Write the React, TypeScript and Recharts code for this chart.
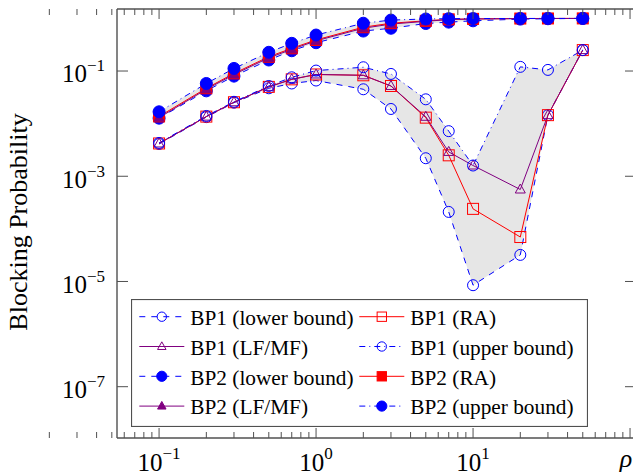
import React from "react";
import { ComposedChart, Line, Area, XAxis, YAxis, Legend } from "recharts";

// load rho
const rho = [0.1, 0.2, 0.3, 0.5, 0.7, 1, 2, 3, 5, 7, 10, 20, 30, 50];

// BP1
const bp1Lower = [0.0041, 0.0133, 0.025, 0.047, 0.058, 0.066, 0.045, 0.019, 0.0022, 0.00021, 8.5e-6, 3.2e-5, 0.0145, 0.25];
const bp1RA = [0.0042, 0.0136, 0.0255, 0.05, 0.0695, 0.086, 0.083, 0.052, 0.013, 0.0025, 0.00024, 7e-5, 0.0145, 0.25];
const bp1LF = [0.0042, 0.0136, 0.0255, 0.05, 0.0695, 0.086, 0.083, 0.052, 0.0135, 0.0029, 0.0016, 0.00056, 0.0145, 0.25];
const bp1Upper = [0.0043, 0.014, 0.026, 0.052, 0.076, 0.102, 0.118, 0.088, 0.029, 0.0072, 0.0016, 0.12, 0.105, 0.25];

// BP2
const bp2Lower = [0.0127, 0.042, 0.08, 0.162, 0.243, 0.345, 0.575, 0.65, 0.8, 0.85, 0.9, 0.97, 0.985, 1.0];
const bp2RA = [0.0137, 0.047, 0.09, 0.187, 0.27, 0.39, 0.68, 0.81, 0.9, 0.96, 0.98, 0.995, 0.998, 1.0];
const bp2LF = [0.013, 0.045, 0.086, 0.178, 0.258, 0.375, 0.65, 0.78, 0.88, 0.95, 0.975, 0.993, 0.997, 1.0];
const bp2Upper = [0.0168, 0.058, 0.112, 0.227, 0.336, 0.483, 0.81, 0.93, 0.975, 0.99, 0.995, 0.998, 0.999, 1.0];

const xMajorTicks = [0.1, 1, 10, 100];
const xLabelTicks = [0.1, 1, 10];
const xMinorTicks = [0.01, 0.1, 1, 10].flatMap((d) => [2, 3, 4, 5, 6, 7, 8, 9].map((k) => k * d));
const yTicks = [1e-1, 1e-3, 1e-5, 1e-7];

const X_DOMAIN = [Math.pow(10, -1.268), Math.pow(10, 2.038)];
const Y_DOMAIN = [Math.pow(10, -7.975), Math.pow(10, 0.179)];

const BLUE = "#0000ff";
const RED = "#ff0000";
const PURPLE = "#800080";
const FRAME = "#505050";
const SERIF = "Liberation Serif, Times New Roman, serif";
const serif = { fontFamily: SERIF };

type Kind = "circle" | "square" | "triangle";
type Series = { key: string; name: string; color: string; dash?: string; kind: Kind; filled: boolean };

const series: Series[] = [
  { key: "bp1Lower", name: "BP1 (lower bound)", color: BLUE, dash: "6 6", kind: "circle", filled: false },
  { key: "bp1RA", name: "BP1 (RA)", color: RED, kind: "square", filled: false },
  { key: "bp1LF", name: "BP1 (LF/MF)", color: PURPLE, kind: "triangle", filled: false },
  { key: "bp1Upper", name: "BP1 (upper bound)", color: BLUE, dash: "6 4 1 4", kind: "circle", filled: false },
  { key: "bp2Lower", name: "BP2 (lower bound)", color: BLUE, dash: "6 6", kind: "circle", filled: true },
  { key: "bp2RA", name: "BP2 (RA)", color: RED, kind: "square", filled: true },
  { key: "bp2LF", name: "BP2 (LF/MF)", color: PURPLE, kind: "triangle", filled: true },
  { key: "bp2Upper", name: "BP2 (upper bound)", color: BLUE, dash: "6 4 1 4", kind: "circle", filled: true },
];

const data = rho.map((x, i) => ({
  x,
  bp1Lower: bp1Lower[i],
  bp1RA: bp1RA[i],
  bp1LF: bp1LF[i],
  bp1Upper: bp1Upper[i],
  bp2Lower: bp2Lower[i],
  bp2RA: bp2RA[i],
  bp2LF: bp2LF[i],
  bp2Upper: bp2Upper[i],
  band1: [bp1Lower[i], bp1Upper[i]],
  band2: [bp2Lower[i], bp2Upper[i]],
}));

function Marker({ kind, filled, color, cx, cy, s = 1 }: { kind: Kind; filled: boolean; color: string; cx: number; cy: number; s?: number }) {
  const fill = filled ? color : "none";
  if (kind === "circle") {
    return <circle cx={cx} cy={cy} r={(filled ? 6 : 5.5) * s} fill={fill} stroke={color} strokeWidth={1} />;
  }
  if (kind === "square") {
    const h = 5.5 * s;
    return <rect x={cx - h} y={cy - h} width={2 * h} height={2 * h} fill={fill} stroke={color} strokeWidth={1} />;
  }
  const w = 5 * s;
  return (
    <polygon
      points={`${cx},${cy - 5.5 * s} ${cx + w},${cy + 3.5 * s} ${cx - w},${cy + 3.5 * s}`}
      fill={fill}
      stroke={color}
      strokeWidth={1}
    />
  );
}

const isMajor = (v: number) => Math.abs(Math.log10(v) - Math.round(Math.log10(v))) < 1e-6;
const expText = (v: number) => {
  const e = Math.round(Math.log10(v));
  return e < 0 ? "\u2212" + -e : String(e);
};

function BottomTick(props: any) {
  const { x, payload } = props;
  const v = payload.value;
  const major = isMajor(v);
  const y = 438;
  return (
    <g>
      <line x1={x} x2={x} y1={y} y2={y - (major ? 10 : 6)} stroke={FRAME} strokeWidth={1} />
      {major && xLabelTicks.some((t) => Math.abs(t - v) < 1e-9) && (
        <text x={x} y={471} textAnchor="middle" style={serif} fontSize={25} fill="#000">
          10
          <tspan dy={-12} fontSize={17}>{expText(v)}</tspan>
        </text>
      )}
    </g>
  );
}

function TopTick(props: any) {
  const { x, payload } = props;
  const major = isMajor(payload.value);
  const y = 9;
  return <line x1={x} x2={x} y1={y} y2={y + (major ? 10 : 6)} stroke={FRAME} strokeWidth={1} />;
}

function LeftTick(props: any) {
  const { y, payload } = props;
  const x = 117;
  return (
    <g>
      <line x1={x} x2={x + 11} y1={y} y2={y} stroke={FRAME} strokeWidth={1} />
      <text x={105} y={y + 11.3} textAnchor="end" style={serif} fontSize={25} fill="#000">
        10
        <tspan dy={-11} fontSize={17}>{expText(payload.value)}</tspan>
      </text>
    </g>
  );
}

function RightTick(props: any) {
  const { y } = props;
  const x = 636;
  return <line x1={x} x2={x - 11} y1={y} y2={y} stroke={FRAME} strokeWidth={1} />;
}

function LegendBox() {
  const rows = [17.7, 47.5, 77.3, 107.1];
  const cols = [8.3, 228.3];
  return (
    <svg width={457} height={128} style={{ display: "block" }}>
      <rect x={0.5} y={0.5} width={456} height={127} fill="#fff" stroke={FRAME} strokeWidth={1.2} />
      {series.map((s, i) => {
        const cx = cols[i % 2];
        const cy = rows[Math.floor(i / 2)];
        return (
          <g key={s.key}>
            <line x1={cx} x2={cx + 45} y1={cy} y2={cy} stroke={s.color} strokeWidth={1} strokeDasharray={s.dash} />
            <Marker kind={s.kind} filled={s.filled} color={s.color} cx={cx + 22.5} cy={cy} s={0.85} />
            <text x={cx + 51} y={cy + 8.3} style={serif} fontSize={21.3} fill="#000">
              {s.name}
            </text>
          </g>
        );
      })}
    </svg>
  );
}

export default function App() {
  return (
    <div style={{ position: "absolute", left: 0, top: 0, width: 633, height: 476, overflow: "hidden", background: "#fff" }}>
      <ComposedChart width={640} height={476} data={data} margin={{ top: 0, right: 0, bottom: 0, left: 0 }}>
        <XAxis
          xAxisId="b"
          dataKey="x"
          type="number"
          scale="log"
          domain={X_DOMAIN}
          allowDataOverflow
          ticks={[...xMajorTicks, ...xMinorTicks]}
          interval={0}
          height={38}
          tickSize={0}
          tickMargin={0}
          tick={<BottomTick />}
          axisLine={{ stroke: FRAME, strokeWidth: 1.4 }}
          tickLine={false}
          label={{
            value: "ρ",
            content: () => (
              <text x={626} y={467} textAnchor="middle" style={serif} fontStyle="italic" fontSize={26} fill="#000">
                ρ
              </text>
            ),
          }}
        />
        <XAxis
          xAxisId="t"
          orientation="top"
          dataKey="x"
          type="number"
          scale="log"
          domain={X_DOMAIN}
          allowDataOverflow
          ticks={[...xMajorTicks, ...xMinorTicks]}
          interval={0}
          height={9}
          tickSize={0}
          tickMargin={0}
          tick={<TopTick />}
          axisLine={{ stroke: FRAME, strokeWidth: 1.4 }}
          tickLine={false}
        />
        <YAxis
          yAxisId="l"
          type="number"
          scale="log"
          domain={Y_DOMAIN}
          allowDataOverflow
          ticks={yTicks}
          interval={0}
          width={117}
          tickSize={0}
          tickMargin={0}
          tick={<LeftTick />}
          axisLine={{ stroke: FRAME, strokeWidth: 1.4 }}
          tickLine={false}
          label={{
            value: "Blocking Probability",
            content: () => (
              <text
                x={27}
                y={222}
                transform="rotate(-90, 27, 222)"
                textAnchor="middle"
                style={serif}
                fontSize={26}
                fill="#000"
              >
                Blocking Probability
              </text>
            ),
          }}
        />
        <YAxis
          yAxisId="r"
          orientation="right"
          type="number"
          scale="log"
          domain={Y_DOMAIN}
          allowDataOverflow
          ticks={yTicks}
          interval={0}
          width={4}
          tickSize={0}
          tickMargin={0}
          tick={<RightTick />}
          axisLine={{ stroke: FRAME, strokeWidth: 1.4 }}
          tickLine={false}
        />
        <Area
          xAxisId="b"
          yAxisId="l"
          type="linear"
          dataKey="band1"
          fill="#e6e6e6"
          fillOpacity={1}
          stroke="none"
          isAnimationActive={false}
          activeDot={false}
          legendType="none"
        />
        <Area
          xAxisId="b"
          yAxisId="l"
          type="linear"
          dataKey="band2"
          fill="#e6e6e6"
          fillOpacity={1}
          stroke="none"
          isAnimationActive={false}
          activeDot={false}
          legendType="none"
        />
        {series.map((s) => (
          <Line
            key={s.key}
            xAxisId="b"
            yAxisId="l"
            type="linear"
            dataKey={s.key}
            name={s.name}
            stroke={s.color}
            strokeWidth={1}
            strokeDasharray={s.dash}
            isAnimationActive={false}
            activeDot={false}
            dot={(p: any) => (
              <Marker key={`${s.key}-${p.index}`} kind={s.kind} filled={s.filled} color={s.color} cx={p.cx} cy={p.cy} />
            )}
          />
        ))}
        <Legend
          layout="horizontal"
          verticalAlign="middle"
          align="center"
          wrapperStyle={{ left: 131, top: 299, width: 457, height: 128 }}
          content={() => <LegendBox />}
        />
      </ComposedChart>
    </div>
  );
}
